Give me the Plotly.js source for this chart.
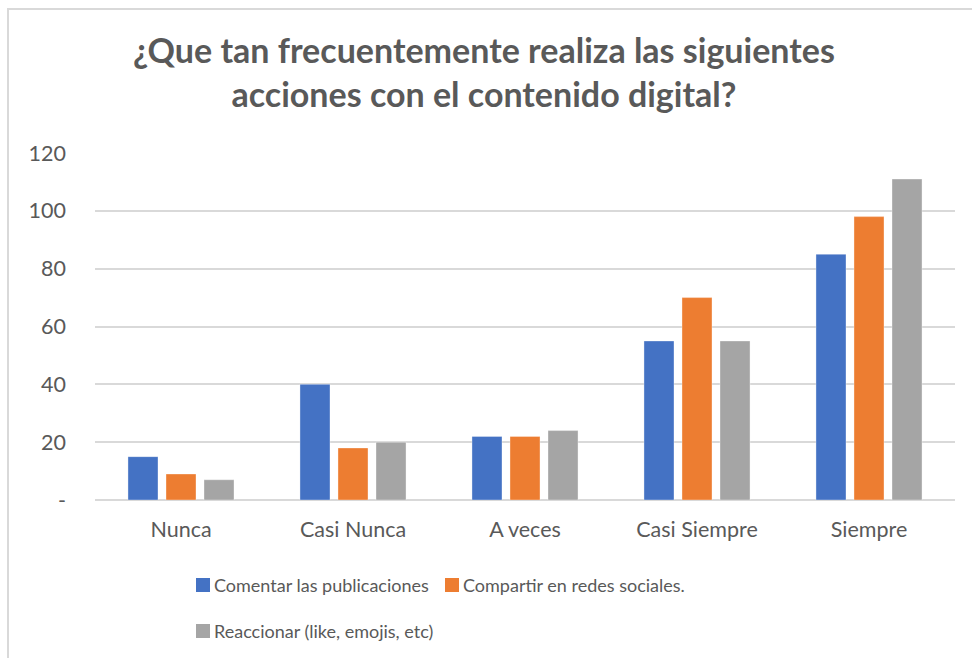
<!DOCTYPE html>
<html>
<head>
<meta charset="utf-8">
<script src="https://cdn.plot.ly/plotly-3.0.1.min.js"></script>
<style>
  html, body { margin: 0; padding: 0; background: #fff; }
  #chart { position: absolute; left: 0; top: 0; width: 972px; height: 658px; }
  #frame { position: absolute; left: 7px; top: 8px; width: 980px; height: 670px;
           border-left: 2px solid #d9d9d9; border-top: 2px solid #d9d9d9; pointer-events: none; }
</style>
</head>
<body>
<div id="chart"></div>
<div id="frame"></div>
<script>
const categories = ['Nunca', 'Casi Nunca', 'A veces', 'Casi Siempre', 'Siempre'];
const comentar = [15, 40, 22, 55, 85];
const compartir = [9, 18, 22, 70, 98];
const reaccionar = [7, 20, 24, 55, 111];
const seriesNames = ['Comentar las publicaciones', 'Compartir en redes sociales.', 'Reaccionar (like, emojis, etc)'];
const seriesColors = ['#4472C4', '#ED7D31', '#A5A5A5'];
const yTickVals = [0, 20, 40, 60, 80, 100, 120];
const yTickText = ['-', '20', '40', '60', '80', '100', '120'];
const titleText = '<b>¿Que tan frecuentemente realiza las siguientes<br>acciones con el contenido digital?</b>';

const FONT = 'Lato, "Open Sans", sans-serif';
const TXT = '#595959';

const seriesValues = [comentar, compartir, reaccionar];
const data = seriesValues.map((vals, i) => ({
  type: 'bar',
  x: categories,
  y: vals,
  name: seriesNames[i],
  marker: { color: seriesColors[i], line: { width: 1, color: 'rgba(255,255,255,0.35)' } },
  showlegend: false,
  hoverinfo: 'x+y+name'
}));

// page-pixel helpers for the plot area
const plotL = 95, plotR = 955, plotT = 153, plotB = 500;
const px = (x) => (x - plotL) / (plotR - plotL);
const py = (y) => (plotB - y) / (plotB - plotT);

// manual legend (Excel-style wrapping)
const legendPos = [[196, 585], [445, 585], [196, 631]];
const shapes = [];
const annotations = [];
legendPos.forEach((p, i) => {
  shapes.push({ type: 'rect', xref: 'paper', yref: 'paper',
    x0: px(p[0]), x1: px(p[0] + 14), y0: py(p[1] - 7), y1: py(p[1] + 7),
    fillcolor: seriesColors[i], line: { width: 0 } });
  annotations.push({ xref: 'paper', yref: 'paper', x: px(p[0] + 16), y: py(p[1]),
    xanchor: 'left', yanchor: 'middle', showarrow: false, text: seriesNames[i],
    font: { family: FONT, size: 18, color: TXT } });
});

// chart title
annotations.push({ xref: 'paper', yref: 'paper', x: px(484), y: py(72),
  xanchor: 'center', yanchor: 'middle', showarrow: false, text: titleText, align: 'center',
  font: { family: FONT, size: 34, color: TXT } });

const layout = {
  width: 972, height: 658,
  margin: { l: plotL, r: 972 - plotR, t: plotT, b: 658 - plotB, pad: 0 },
  paper_bgcolor: '#ffffff', plot_bgcolor: '#ffffff',
  barmode: 'group', bargap: 0.337, bargroupgap: 0.21,
  xaxis: { type: 'category', showgrid: false, showline: false, zeroline: false, ticks: '',
    tickfont: { family: FONT, size: 21.5, color: TXT }, ticklabelstandoff: 14, fixedrange: true },
  yaxis: { range: [0, 120], tickvals: yTickVals, ticktext: yTickText, showgrid: true,
    gridcolor: '#D9D9D9', gridwidth: 1.5, zeroline: true, zerolinecolor: '#D9D9D9', zerolinewidth: 1.5,
    showline: false, ticks: '', tickfont: { family: FONT, size: 21.5, color: TXT }, ticklabelstandoff: 28, fixedrange: true },
  shapes: shapes,
  annotations: annotations,
  font: { family: FONT, color: TXT }
};

Plotly.newPlot('chart', data, layout, { displayModeBar: false });
</script>
</body>
</html>
